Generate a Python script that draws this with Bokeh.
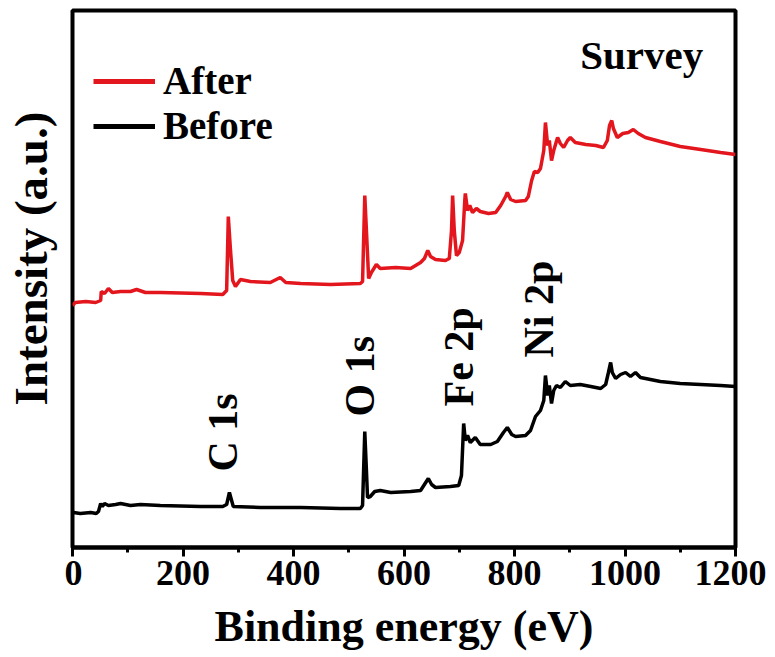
from bokeh.plotting import figure
from bokeh.layouts import row
from bokeh.models import Range1d, SingleIntervalTicker, Legend, LegendItem, Label
from bokeh.embed import file_html
from bokeh.resources import INLINE
from math import pi

FONT = "Liberation Serif"
RED = "#e3161d"

# Binding energy (eV) and intensity (a.u.)
before_ev = [2, 14, 33, 43, 47, 51, 54, 58, 65, 78, 87, 105, 123, 159, 232, 272, 279, 284, 288, 291,
             340, 413, 485, 521, 525, 529, 532, 534, 539, 547, 557, 576, 612, 630, 637, 644, 650, 657,
             684, 699, 704, 708, 711, 715, 720, 729, 738, 757, 769, 780, 787, 795, 802, 820, 829, 838,
             847, 853, 856, 860, 863, 867, 871, 876, 883, 892, 901, 919, 938, 956, 965, 970, 974, 977,
             983, 992, 1001, 1010, 1019, 1028, 1064, 1100, 1137, 1173, 1200]
before_int = [35, 34, 35, 34, 36, 44, 41, 44, 42, 43, 44, 42, 43, 42, 41, 41, 43, 55, 47, 41,
              40, 40, 39, 39, 42, 116, 77, 50, 51, 56, 57, 55, 56, 57, 63, 69, 63, 60,
              61, 62, 72, 124, 107, 112, 105, 110, 103, 103, 106, 115, 120, 113, 111, 112, 117, 131,
              137, 147, 172, 152, 162, 144, 157, 162, 160, 166, 162, 163, 161, 159, 163, 175, 185, 175,
              169, 173, 175, 171, 175, 170, 166, 164, 163, 162, 161]

after_ev = [0, 5, 24, 42, 51, 52, 58, 65, 72, 87, 105, 116, 132, 159, 232, 272, 279, 282, 286, 290,
            295, 304, 322, 358, 376, 386, 413, 467, 521, 525, 529, 532, 536, 541, 550, 557, 585, 612,
            621, 630, 637, 643, 648, 657, 675, 682, 686, 688, 691, 695, 700, 706, 710, 711, 715, 719,
            724, 731, 738, 753, 766, 775, 784, 787, 793, 802, 820, 825, 831, 836, 842, 847, 853, 856,
            860, 863, 867, 871, 878, 883, 889, 896, 901, 910, 929, 947, 961, 968, 972, 976, 979, 986,
            996, 1006, 1015, 1024, 1037, 1064, 1100, 1137, 1173, 1200]
after_int = [242, 245, 246, 245, 247, 256, 254, 259, 255, 256, 256, 258, 255, 255, 254, 253, 257, 331, 297, 267,
             261, 268, 266, 265, 270, 265, 264, 263, 264, 266, 352, 317, 269, 275, 283, 279, 280, 279,
             282, 285, 289, 297, 291, 288, 287, 289, 317, 352, 317, 292, 295, 307, 347, 354, 337, 342,
             335, 339, 336, 334, 335, 342, 351, 355, 348, 346, 347, 351, 367, 376, 375, 379, 397, 425,
             402, 407, 387, 397, 410, 404, 400, 407, 410, 405, 403, 402, 400, 407, 422, 427, 419, 410,
             414, 415, 418, 414, 410, 406, 401, 398, 395, 393]

peak_names = ["C 1s", "O 1s", "Fe 2p", "Ni 2p"]
peak_label_ev = [273, 520, 700, 845]
peak_label_int = [76, 131, 141, 190]

# ---------------- main plot ----------------
p = figure(frame_width=663, frame_height=537,
           x_range=Range1d(0, 1200), y_range=Range1d(0, 537),
           output_backend="svg", toolbar_location=None,
           min_border_left=8, min_border_right=31, min_border_top=10, min_border_bottom=100,
           background_fill_color="white", border_fill_color="white")

p.grid.visible = False
p.outline_line_color = "black"
p.outline_line_width = 4
p.outline_line_alpha = 1
p.yaxis.visible = False

xa = p.xaxis[0]
xa.ticker = SingleIntervalTicker(interval=200, num_minor_ticks=2)
xa.axis_line_width = 4
xa.major_tick_line_width = 3
xa.minor_tick_line_width = 3
xa.major_tick_in = 0
xa.major_tick_out = 9
xa.minor_tick_in = 0
xa.minor_tick_out = 5
xa.major_label_text_font = FONT
xa.major_label_text_font_style = "bold"
xa.major_label_text_font_size = "36px"
xa.major_label_text_color = "black"
xa.major_label_standoff = 4
xa.axis_label = "Binding energy (eV)"
xa.axis_label_text_font = FONT
xa.axis_label_text_font_style = "bold"
xa.axis_label_text_font_size = "44px"
xa.axis_label_text_color = "black"
xa.axis_label_standoff = 14

r_before = p.line(before_ev, before_int, line_color="black", line_width=3.5)
r_after = p.line(after_ev, after_int, line_color=RED, line_width=3.5)

# legend-only renderers (thicker strokes, nothing visible in the frame)
nan = float("nan")
lg_after = p.line([nan], [nan], line_color=RED, line_width=5)
lg_before = p.line([nan], [nan], line_color="black", line_width=5)

legend = Legend(items=[LegendItem(label="After", renderers=[lg_after]),
                       LegendItem(label="Before", renderers=[lg_before])],
                location=(21, 399), padding=0, spacing=0, margin=0,
                glyph_width=62, glyph_height=42, label_height=42, label_standoff=8,
                label_text_font=FONT, label_text_font_style="bold",
                label_text_font_size="39px", label_text_color="black",
                border_line_alpha=0, background_fill_alpha=0)
p.add_layout(legend)

for name, ev, it in zip(peak_names, peak_label_ev, peak_label_int):
    p.add_layout(Label(x=ev, y=it, text=name, angle=pi / 2,
                       text_align="left", text_baseline="alphabetic",
                       text_font=FONT, text_font_style="bold",
                       text_font_size="42px", text_color="black"))

p.add_layout(Label(x=919, y=493, text="Survey", text_align="left",
                   text_baseline="alphabetic", text_font=FONT,
                   text_font_style="bold", text_font_size="41px", text_color="black"))

# ---------------- y-axis title strip ----------------
side = figure(frame_width=64, frame_height=560,
              x_range=Range1d(0, 64), y_range=Range1d(560, 0),
              x_axis_type=None, y_axis_type=None,
              output_backend="svg", toolbar_location=None,
              min_border=0, background_fill_color="white", border_fill_color="white")
side.grid.visible = False
side.outline_line_color = None
side.add_layout(Label(x=30, y=248, text="Intensity (a.u.)", angle=pi / 2,
                      text_align="center", text_baseline="alphabetic",
                      text_font=FONT, text_font_style="bold",
                      text_font_size="47px", text_color="black"))

layout = row(side, p, spacing=0)
open("out.html", "w").write(file_html(layout, INLINE))
